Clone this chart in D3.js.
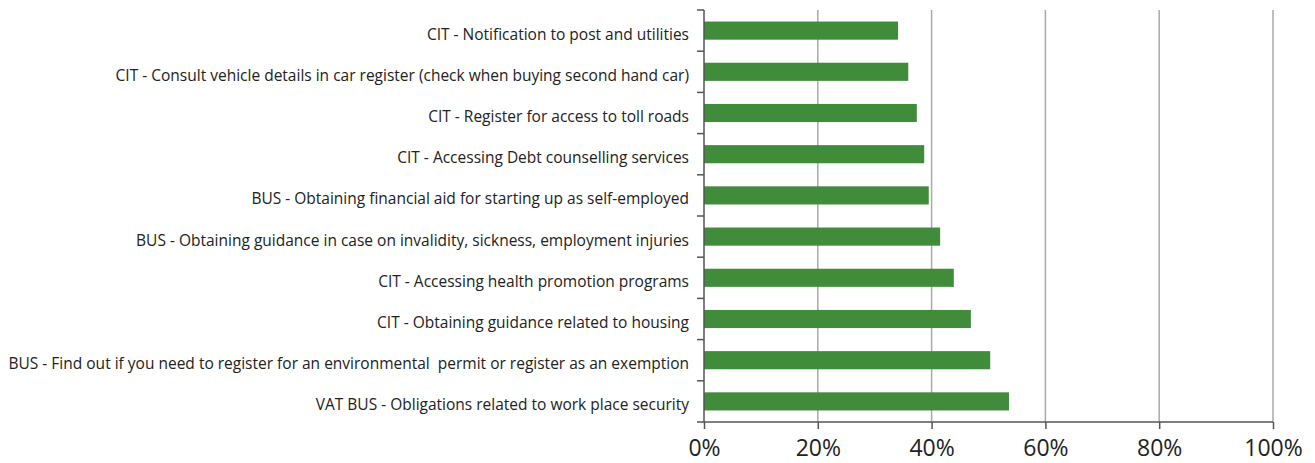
<!DOCTYPE html>
<html lang="en">
  <head>
    <meta charset="utf-8">
    <title>Services</title>
    <script src="https://cdn.jsdelivr.net/npm/d3@7"></script>
    <style>
      body { margin: 0; background: #fff; }
      svg text { font-family: "Open Sans", sans-serif; fill: #222; }
    </style>
  </head>
  <body>
    <script>

      var categories = [
        "CIT - Notification to post and utilities",
        "CIT - Consult vehicle details in car register (check when buying second hand car)",
        "CIT - Register for access to toll roads",
        "CIT - Accessing Debt counselling services",
        "BUS - Obtaining financial aid for starting up as self-employed",
        "BUS - Obtaining guidance in case on invalidity, sickness, employment injuries",
        "CIT - Accessing health promotion programs",
        "CIT - Obtaining guidance related to housing",
        "BUS - Find out if you need to register for an environmental  permit or register as an exemption",
        "VAT BUS - Obligations related to work place security"
      ];
      var values = [34.1, 35.9, 37.4, 38.7, 39.5, 41.5, 43.9, 46.9, 50.3, 53.6];
      var xTicks = [0, 20, 40, 60, 80, 100];

      var W = 1315, H = 463;
      var plotLeft = 704, plotRight = 1273, plotTop = 10, plotBottom = 422;

      var svg = d3.select("body").append("svg")
                  .attr("width", W)
                  .attr("height", H);

      var x = d3.scaleLinear().domain([0, 100]).range([plotLeft, plotRight]);
      var y = d3.scaleBand().domain(categories).range([plotTop, plotBottom]).paddingInner(0.56).paddingOuter(0.28);

      // gridlines
      svg.selectAll("line.grid")
         .data(xTicks.slice(1))
         .enter().append("line")
         .attr("class", "grid")
         .attr("x1", function(d) { return x(d); })
         .attr("x2", function(d) { return x(d); })
         .attr("y1", plotTop)
         .attr("y2", plotBottom)
         .style("stroke", "#aaa")
         .style("stroke-width", 1.5);

      svg.selectAll("rect")
         .data(values)
         .enter().append("rect")
         .attr("x", x(0))
         .attr("y", function(d, i) { return y(categories[i]); })
         .attr("width", function(d) { return x(d) - x(0); })
         .attr("height", y.bandwidth())
         .style("fill", "#408c3a");

      // left axis: ticks at band boundaries
      var step = (plotBottom - plotTop) / categories.length;
      var bounds = d3.range(categories.length + 1).map(function(i) { return plotTop + i * step; });
      svg.selectAll("line.ytick")
         .data(bounds)
         .enter().append("line")
         .attr("class", "ytick")
         .attr("x1", plotLeft - 7)
         .attr("x2", plotLeft)
         .attr("y1", function(d) { return d; })
         .attr("y2", function(d) { return d; })
         .style("stroke", "#555")
         .style("stroke-width", 1.5);
      svg.append("line")
         .attr("x1", plotLeft).attr("x2", plotLeft)
         .attr("y1", plotTop).attr("y2", plotBottom)
         .style("stroke", "#555").style("stroke-width", 1.5);

      svg.selectAll("text.cat")
         .data(categories)
         .enter().append("text")
         .attr("class", "cat")
         .attr("x", plotLeft - 15)
         .attr("y", function(d) { return y(d) + y.bandwidth() / 2 + 3.5; })
         .attr("dy", "0.35em")
         .attr("text-anchor", "end")
         .style("font-size", "15.5px")
         .style("white-space", "pre")
         .text(function(d) { return d; });

      // bottom axis
      var xAxis = d3.axisBottom(x)
                    .tickValues(xTicks)
                    .tickSize(7)
                    .tickFormat(function(d) { return d + "%"; });
      var gx = svg.append("g")
                  .attr("transform", "translate(0," + plotBottom + ")")
                  .call(xAxis);
      gx.select(".domain").attr("d", "M" + plotLeft + ",0H" + plotRight).style("stroke", "#555").style("stroke-width", 1.5);
      gx.selectAll(".tick line").style("stroke", "#555").style("stroke-width", 1.5);
      gx.selectAll(".tick text")
        .attr("y", 34)
        .attr("dy", 0)
        .style("font-size", "23px")
        .style("fill", "#222")
        .style("font-family", "\"Open Sans\", sans-serif");

    </script>
  </body>
</html>
